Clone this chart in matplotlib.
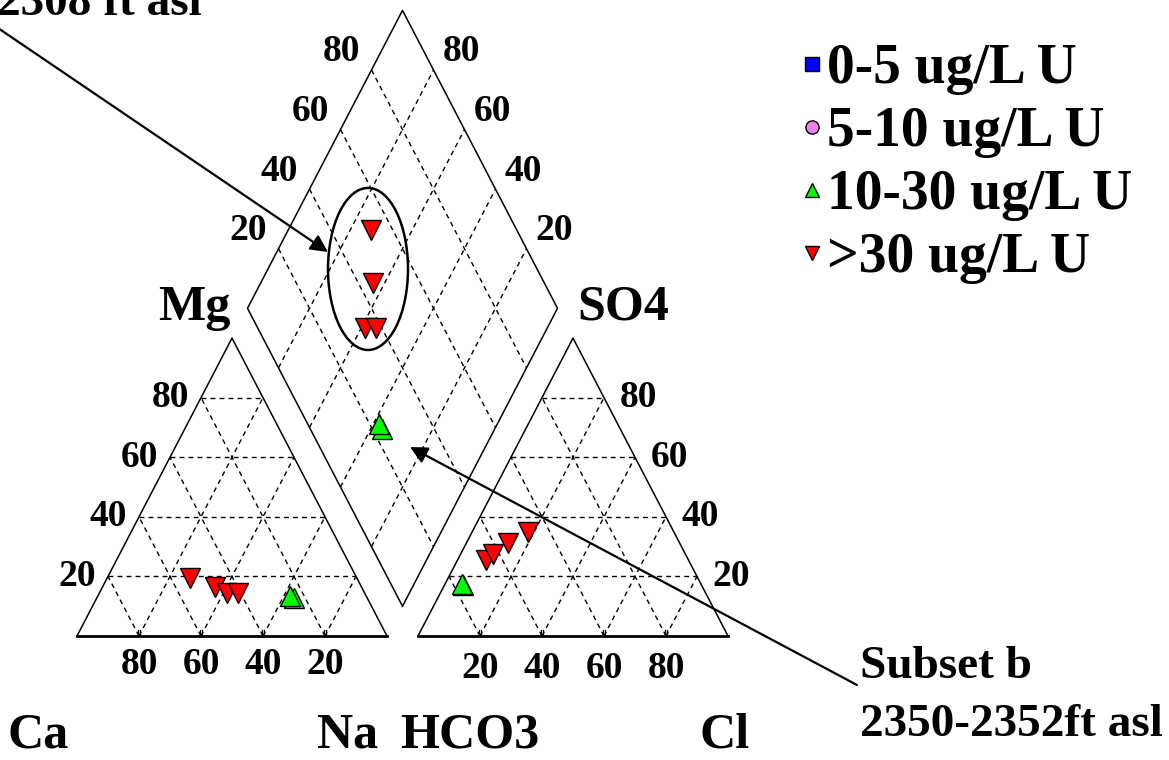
import numpy as np
import matplotlib.pyplot as plt
from matplotlib.patches import Ellipse
from matplotlib.lines import Line2D

plt.rcParams['font.family'] = ['Liberation Serif', 'DejaVu Serif']
plt.rcParams['font.weight'] = 'bold'

# sample chemistry (% meq/L); first four are >30 ug/L U, last two 10-30 ug/L U
groups = ['>30', '>30', '>30', '>30', '10-30', '10-30']
ca = [53.8, 47.4, 44.4, 40.8, 23.5, 24.6]
mg = [19.5, 16.4, 14.4, 14.4, 12.8, 13.4]
na = [26.7, 36.2, 41.2, 44.8, 63.7, 62.0]
hco3 = [47.0, 55.3, 65.4, 61.9, 76.9, 77.0]
so4 = [34.9, 31.2, 25.5, 27.5, 17.1, 17.5]
cl = [18.1, 13.5, 9.1, 10.6, 6.0, 5.5]

legend_labels = ['0-5 ug/L U', '5-10 ug/L U', '10-30 ug/L U', '>30 ug/L U']
ticks = [20, 40, 60, 80]

H = np.sqrt(3) / 2
GAP = 0.1
W, HT = 1169, 760


def cat_xy(c, m, n):
    return n / 100 + m / 200, m / 100 * H


def an_xy(h, s, c):
    return 1 + GAP + c / 100 + s / 200, s / 100 * H


def dia_xy(n, b):
    return (n + 1 + GAP + b) / 2, np.sqrt(3) * (1 + GAP + b - n) / 2


def fpx(x, y):
    # image pixel (from top-left) -> figure fraction
    return x / W, 1 - y / HT


fig = plt.figure(figsize=(W / 100, HT / 100), dpi=100)
ax = fig.add_axes([0, 0, 1, 1])
ax.set_xlim(-77 / 310, (W - 77) / 310)
ax.set_ylim(-(HT - 636) / 344, 636 / 344)
ax.axis('off')

dash = dict(color='k', lw=1.0, ls=(0, (3.5, 3)))
solid = dict(color='k', lw=1.1)

# triangles
for x0 in [0, 1 + GAP]:
    ax.plot([x0, x0 + 0.5, x0 + 1], [0, H, 0], **solid)
    ax.plot([x0, x0 + 1], [0, 0], color='k', lw=2)
    for t in ticks:
        v = t / 100
        ax.plot([x0 + v / 2, x0 + 1 - v / 2], [v * H, v * H], **dash)
        ax.plot([x0 + v, x0 + v / 2 + 0.5], [0, (1 - v) * H], **dash)
        ax.plot([x0 + v, x0 + v / 2], [0, v * H], **dash)
        for dx in [-0.0035, 0.0035]:
            ax.plot([x0 + v + dx] * 2, [0, 0.016], color='k', lw=0.9)

# diamond
dv = [dia_xy(1, 0), dia_xy(1, 1), dia_xy(0, 1), dia_xy(0, 0), dia_xy(1, 0)]
ax.plot([p[0] for p in dv], [p[1] for p in dv], **solid)
for t in ticks:
    v = t / 100
    p1, p2 = dia_xy(v, 0), dia_xy(v, 1)
    ax.plot([p1[0], p2[0]], [p1[1], p2[1]], **dash)
    p1, p2 = dia_xy(0, v), dia_xy(1, v)
    ax.plot([p1[0], p2[0]], [p1[1], p2[1]], **dash)

# tick labels
tk = dict(fontsize=27, fontweight='bold', textcoords='offset pixels',
          ha='center', va='center')
for t in ticks:
    v = t / 100
    ax.annotate(str(t), cat_xy(100 - t, t, 0), xytext=(-31, 0), **tk)
    ax.annotate(str(100 - t), (v, 0), xytext=(0, -29), **tk)
    ax.annotate(str(t), (1 + GAP + v, 0), xytext=(0, -33), **tk)
    ax.annotate(str(t), an_xy(0, t, 100 - t), xytext=(34, 0), **tk)
    ax.annotate(str(t), dia_xy(0, v), xytext=(-30, 18), **tk)
    ax.annotate(str(100 - t), dia_xy(v, 1), xytext=(28, 18), **tk)

# data points
style = {'>30': dict(marker='v', color='red', ms=14),
         '10-30': dict(marker='^', color='#00ff00', ms=14)}
for i, g in enumerate(groups):
    st = style[g]
    pts = [cat_xy(ca[i], mg[i], na[i]), an_xy(hco3[i], so4[i], cl[i]),
           dia_xy(na[i] / 100, (so4[i] + cl[i]) / 100)]
    for x, y in pts:
        ax.plot(x, y, marker=st['marker'], ms=st['ms'], mfc=st['color'],
                mec='k', mew=1, ls='none', zorder=5)

# circle around subset a
ax.add_patch(Ellipse((0.9387, 1.067), 0.258, 0.471, fill=False, lw=1.8,
                     ec='k', zorder=6))

# axis names
lab = dict(fontsize=36, fontweight='bold', ha='center', va='baseline')
for txt, x, y in [('Mg', 194, 320), ('SO4', 623, 320), ('Ca', 38, 747),
                  ('Na', 348, 747), ('HCO3', 470, 747), ('Cl', 725, 747)]:
    fig.text(*fpx(x, y), txt, **lab)

# annotations
fig.text(*fpx(202, 15), '2308 ft asl', fontsize=34, fontweight='bold',
         ha='right', va='baseline')
fig.text(*fpx(860, 678), 'Subset b', fontsize=34, fontweight='bold',
         ha='left', va='baseline')
fig.text(*fpx(860, 736), '2350-2352ft asl', fontsize=34, fontweight='bold',
         ha='left', va='baseline')
arrow = dict(arrowstyle='-|>', color='k', lw=1.6, mutation_scale=26,
             shrinkA=0, shrinkB=0)
ax.annotate('', xy=fpx(328, 252), xycoords='figure fraction',
            xytext=fpx(-5, 26), textcoords='figure fraction',
            arrowprops=arrow, annotation_clip=False)
ax.annotate('', xy=fpx(410, 447), xycoords='figure fraction',
            xytext=fpx(857, 685), textcoords='figure fraction',
            arrowprops=arrow, annotation_clip=False)

# legend
handles = [
    Line2D([], [], marker='s', ms=9.5, mfc='blue', mec='k', ls='none'),
    Line2D([], [], marker='o', ms=9.5, mfc='violet', mec='k', ls='none'),
    Line2D([], [], marker='^', ms=9.5, mfc='#00ff00', mec='k', ls='none'),
    Line2D([], [], marker='v', ms=9.5, mfc='red', mec='k', ls='none'),
]
ax.legend(handles, legend_labels, loc='upper left',
          bbox_to_anchor=fpx(802, 43), bbox_transform=fig.transFigure,
          frameon=False, prop=dict(size=40, weight='bold'),
          handlelength=0.35, handletextpad=0.1, labelspacing=0.2,
          borderpad=0, borderaxespad=0)

fig.savefig('out.png', dpi=100)
